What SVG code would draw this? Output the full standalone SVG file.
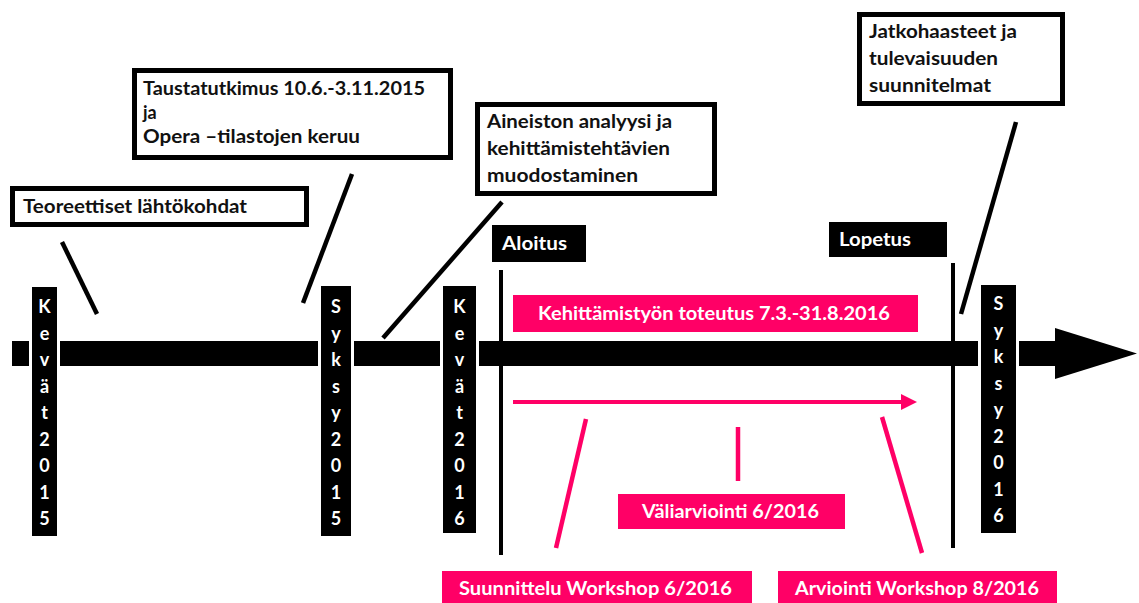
<svg xmlns="http://www.w3.org/2000/svg" width="1139" height="603" viewBox="0 0 1139 603">
  <style>
    text { font-family: Lato, "Open Sans", "Liberation Sans", sans-serif; font-weight: bold; font-size: 18px; }
    .note { fill: #fff; stroke: #000; stroke-width: 5; }
    .note-text { fill: #111; }
    .tag { fill: #000; }
    .tag-text { fill: #fff; }
    .pink { fill: #ff0066; }
    .pink-text { fill: #fff; }
    .season { fill: #000; stroke: #fff; stroke-width: 6; paint-order: stroke; }
    .season-text { fill: #fff; font-size: 18px; text-anchor: middle; }
    .lead { stroke: #000; stroke-width: 4.5; fill: none; }
    .lead-pink { stroke: #ff0066; stroke-width: 4.5; fill: none; }
    .marker-line { stroke: #000; stroke-width: 4; }
  </style>

  <rect width="1139" height="603" fill="#fff"/>

  <!-- main timeline bar with arrowhead -->
  <g id="timeline">
    <rect x="12" y="341" width="1044" height="25" fill="#000"/>
    <polygon points="1055,328 1137,353.5 1055,379" fill="#000"/>
  </g>

  <!-- start / end markers -->
  <g id="aloitus">
    <rect class="tag" x="492" y="225" width="94" height="37"/>
    <text class="tag-text" x="502" y="250" textLength="65" lengthAdjust="spacingAndGlyphs">Aloitus</text>
    <line class="marker-line" x1="501" y1="270" x2="501" y2="555"/>
  </g>
  <g id="lopetus">
    <rect class="tag" x="829" y="222" width="118" height="35"/>
    <text class="tag-text" x="839" y="246" textLength="72" lengthAdjust="spacingAndGlyphs">Lopetus</text>
    <line class="marker-line" x1="953" y1="263" x2="953" y2="548"/>
  </g>

  <!-- season labels across the bar -->
  <g id="kevat2015">
    <rect class="season" x="32" y="287" width="25" height="249"/>
    <text class="season-text" x="44.5" y="313">K</text>
    <text class="season-text" x="44.5" y="339.5">e</text>
    <text class="season-text" x="44.5" y="366">v</text>
    <text class="season-text" x="44.5" y="392.5">ä</text>
    <text class="season-text" x="44.5" y="419">t</text>
    <text class="season-text" x="44.5" y="445.5">2</text>
    <text class="season-text" x="44.5" y="472">0</text>
    <text class="season-text" x="44.5" y="498.5">1</text>
    <text class="season-text" x="44.5" y="525">5</text>
  </g>
  <g id="syksy2015">
    <rect class="season" x="321" y="286" width="30" height="250"/>
    <text class="season-text" x="336" y="313">S</text>
    <text class="season-text" x="336" y="339.5">y</text>
    <text class="season-text" x="336" y="366">k</text>
    <text class="season-text" x="336" y="392.5">s</text>
    <text class="season-text" x="336" y="419">y</text>
    <text class="season-text" x="336" y="445.5">2</text>
    <text class="season-text" x="336" y="472">0</text>
    <text class="season-text" x="336" y="498.5">1</text>
    <text class="season-text" x="336" y="525">5</text>
  </g>
  <g id="kevat2016">
    <rect class="season" x="443" y="286" width="33" height="247"/>
    <text class="season-text" x="459.5" y="313">K</text>
    <text class="season-text" x="459.5" y="339.5">e</text>
    <text class="season-text" x="459.5" y="366">v</text>
    <text class="season-text" x="459.5" y="392.5">ä</text>
    <text class="season-text" x="459.5" y="419">t</text>
    <text class="season-text" x="459.5" y="445.5">2</text>
    <text class="season-text" x="459.5" y="472">0</text>
    <text class="season-text" x="459.5" y="498.5">1</text>
    <text class="season-text" x="459.5" y="525">6</text>
  </g>
  <g id="syksy2016">
    <rect class="season" x="981" y="285" width="35" height="248"/>
    <text class="season-text" x="998.5" y="310">S</text>
    <text class="season-text" x="998.5" y="336.5">y</text>
    <text class="season-text" x="998.5" y="363">k</text>
    <text class="season-text" x="998.5" y="389.5">s</text>
    <text class="season-text" x="998.5" y="416">y</text>
    <text class="season-text" x="998.5" y="442.5">2</text>
    <text class="season-text" x="998.5" y="469">0</text>
    <text class="season-text" x="998.5" y="495.5">1</text>
    <text class="season-text" x="998.5" y="522">6</text>
  </g>

  <!-- phase notes above the bar -->
  <g id="teoreettiset">
    <rect class="note" x="12.5" y="188.5" width="294" height="36"/>
    <text class="note-text" x="23" y="213" textLength="224" lengthAdjust="spacingAndGlyphs">Teoreettiset lähtökohdat</text>
  </g>
  <g id="taustatutkimus">
    <rect class="note" x="134.5" y="70.5" width="316" height="87"/>
    <text class="note-text" x="143" y="95" textLength="282" lengthAdjust="spacingAndGlyphs">Taustatutkimus 10.6.-3.11.2015</text>
    <text class="note-text" x="143" y="119">ja</text>
    <text class="note-text" x="143" y="143" textLength="217" lengthAdjust="spacingAndGlyphs">Opera –tilastojen keruu</text>
  </g>
  <g id="aineiston">
    <rect class="note" x="477.5" y="104.5" width="237" height="89"/>
    <text class="note-text" x="487" y="128" textLength="185" lengthAdjust="spacingAndGlyphs">Aineiston analyysi ja</text>
    <text class="note-text" x="487" y="155" textLength="183" lengthAdjust="spacingAndGlyphs">kehittämistehtävien</text>
    <text class="note-text" x="487" y="182" textLength="151" lengthAdjust="spacingAndGlyphs">muodostaminen</text>
  </g>
  <g id="jatkohaasteet">
    <rect class="note" x="859.5" y="14.5" width="203" height="89"/>
    <text class="note-text" x="869" y="38" textLength="148" lengthAdjust="spacingAndGlyphs">Jatkohaasteet ja</text>
    <text class="note-text" x="869" y="65" textLength="129" lengthAdjust="spacingAndGlyphs">tulevaisuuden</text>
    <text class="note-text" x="869" y="92" textLength="122" lengthAdjust="spacingAndGlyphs">suunnitelmat</text>
  </g>

  <!-- development work period -->
  <g id="kehittamistyo">
    <rect class="pink" x="513" y="295" width="405" height="37"/>
    <text class="pink-text" x="538" y="320" textLength="352" lengthAdjust="spacingAndGlyphs">Kehittämistyön toteutus 7.3.-31.8.2016</text>
  </g>
  <g id="kehittamistyo-arrow">
    <line x1="513" y1="402" x2="903" y2="402" stroke="#ff0066" stroke-width="4"/>
    <polygon points="901,394 917,402 901,410" fill="#ff0066"/>
  </g>

  <!-- workshops and evaluation -->
  <g id="valiarviointi">
    <rect class="pink" x="618" y="494" width="227" height="35"/>
    <text class="pink-text" x="642" y="518" textLength="177" lengthAdjust="spacingAndGlyphs">Väliarviointi 6/2016</text>
  </g>
  <g id="suunnittelu">
    <rect class="pink" x="442" y="571" width="310" height="34"/>
    <text class="pink-text" x="459" y="595" textLength="273" lengthAdjust="spacingAndGlyphs">Suunnittelu Workshop 6/2016</text>
  </g>
  <g id="arviointi">
    <rect class="pink" x="778" y="571" width="279" height="34"/>
    <text class="pink-text" x="795" y="595" textLength="244" lengthAdjust="spacingAndGlyphs">Arviointi Workshop 8/2016</text>
  </g>

  <!-- leader lines -->
  <g id="connectors">
    <line class="lead" x1="62" y1="242" x2="97" y2="314"/>
    <line class="lead" x1="352" y1="174" x2="303" y2="303"/>
    <line class="lead" x1="502" y1="202" x2="383" y2="338"/>
    <line class="lead" x1="1016" y1="122" x2="961" y2="314"/>
    <line class="lead-pink" x1="586" y1="419" x2="556" y2="548"/>
    <line class="lead-pink" x1="738" y1="427" x2="738" y2="481"/>
    <line class="lead-pink" x1="882" y1="417" x2="922" y2="553"/>
  </g>
</svg>
